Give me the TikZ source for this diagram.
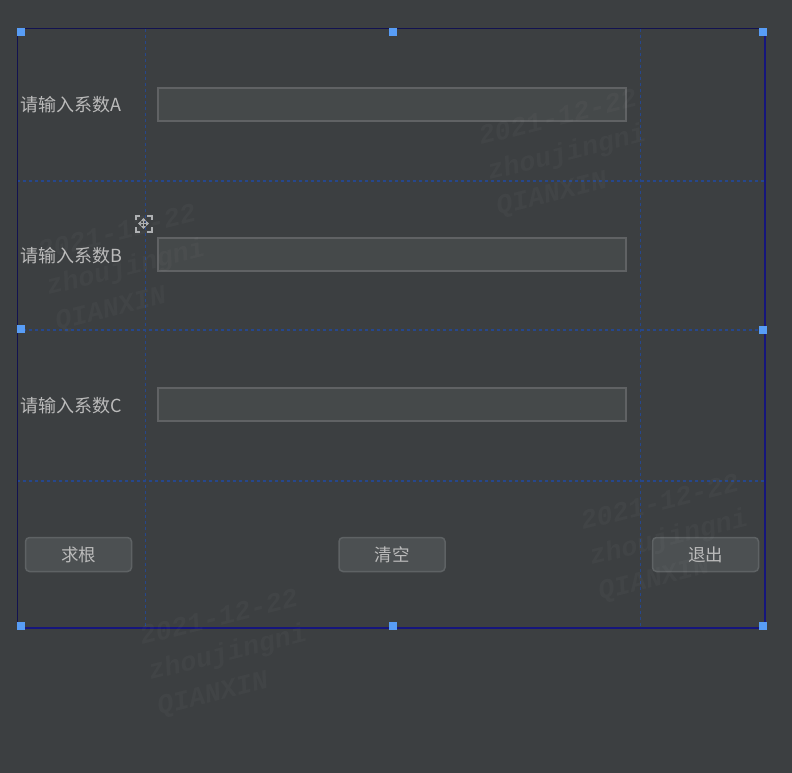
\documentclass[tikz,border=0pt]{standalone}
\usepackage{fontspec}
\newfontfamily\cjk{Noto Sans CJK SC}
\newfontfamily\wmfont{Liberation Mono}
\usetikzlibrary{arrows.meta}
\definecolor{bgc}{HTML}{3C3F41}
\definecolor{fieldfill}{HTML}{45494A}
\definecolor{fieldline}{HTML}{606264}
\definecolor{btnfill}{HTML}{4C5052}
\definecolor{btnline}{HTML}{5E6264}
\definecolor{txt}{HTML}{BBBBBB}
\definecolor{gridc}{HTML}{26478C}
\definecolor{framec}{HTML}{16167C}
\definecolor{framedark}{HTML}{121250}
\definecolor{handlec}{HTML}{589DF6}
\definecolor{iconc}{HTML}{AEB0B2}
\tikzset{
  field/.style={draw=fieldline, fill=fieldfill, line width=2pt, minimum width=468pt, minimum height=33pt, inner sep=0pt},
  lbl/.style={anchor=west, inner sep=0pt, text=txt, font=\cjk\fontsize{18}{20}\selectfont},
  btn/.style={draw=btnline, fill=btnfill, line width=1.5pt, rounded corners=4pt, minimum width=106pt, minimum height=34pt, inner sep=0pt, text=txt, font=\cjk\fontsize{17.5}{20}\selectfont},
  gridline/.style={draw=gridc, line width=1.1pt, dash pattern=on 3pt off 3pt},
  handle/.style={fill=handlec, minimum size=8pt, inner sep=0pt},
  wm/.style={anchor=base west, inner sep=0pt, rotate=14, text=white, text opacity=0.028, font=\wmfont\bfseries\itshape\fontsize{27}{30}\selectfont},
}
\newcommand\wmark[3]{%
  \node[wm] (#3a) at (#1,#2) {2021-12-22};
  \node[wm] (#3b) at ({#1+8.7},{#2+35}) {zhoujingni};
  \node[wm] (#3c) at ({#1+17.4},{#2+70}) {QIANXIN};
}
\begin{document}
\begin{tikzpicture}[x=1pt,y=-1pt]
\useasboundingbox (0,0) rectangle (792,773);
\fill[bgc] (0,0) rectangle (792,773);
% grid lines
\draw[gridline] (145.5,29) -- (145.5,628);
\draw[gridline] (640.5,29) -- (640.5,628);
\draw[gridline] (17,181) -- (765,181);
\draw[gridline] (17,330) -- (765,330);
\draw[gridline] (17,481) -- (765,481);
% frame
\draw[framedark, line width=1pt] (17.5,628) -- (17.5,29) -- (765,29);
\draw[framec, line width=2pt] (765,29) -- (765,628);
\draw[framec, line width=1.3pt] (17,628) -- (766,628);
% labels
\node[lbl] (la) at (20,104.5) {请输入系数A};
\node[lbl] (lb) at (20,255.5) {请输入系数B};
\node[lbl] (lc) at (20,405.5) {请输入系数C};
% fields
\node[field] (fa) at (392,104.5) {};
\node[field] (fb) at (392,254.5) {};
\node[field] (fc) at (392,404.5) {};
% buttons
\node[btn] (b1) at (78.5,554.5) {求根};
\node[btn] (b2) at (392,554.5) {清空};
\node[btn] (b3) at (705.5,554.5) {退出};
% move icon
\begin{scope}[iconc, line width=2pt]
  \draw (135.5,220) -- (135.5,215.5) -- (140,215.5);
  \draw (147,215.5) -- (151.5,215.5) -- (151.5,220);
  \draw (151.5,227) -- (151.5,231.5) -- (147,231.5);
  \draw (140,231.5) -- (135.5,231.5) -- (135.5,227);
  \draw[line width=1.6pt, {Triangle[length=3pt,width=5pt]}-{Triangle[length=3pt,width=5pt]}] (138,223.5) -- (149,223.5);
  \draw[line width=1.6pt, {Triangle[length=3pt,width=5pt]}-{Triangle[length=3pt,width=5pt]}] (143.5,218) -- (143.5,229);
\end{scope}
% watermarks
\wmark{481}{145}{wmA}
\wmark{40}{260}{wmB}
\wmark{583}{530}{wmC}
\wmark{142}{645}{wmD}
% handles
\node[handle] (h1) at (20.5,32.5) {};
\node[handle] (h2) at (392.5,32.5) {};
\node[handle] (h3) at (763,32.5) {};
\node[handle] (h4) at (20.5,329) {};
\node[handle] (h5) at (763,330) {};
\node[handle] (h6) at (20.5,625.5) {};
\node[handle] (h7) at (392.5,625.5) {};
\node[handle] (h8) at (763,625.5) {};
\end{tikzpicture}
\end{document}
